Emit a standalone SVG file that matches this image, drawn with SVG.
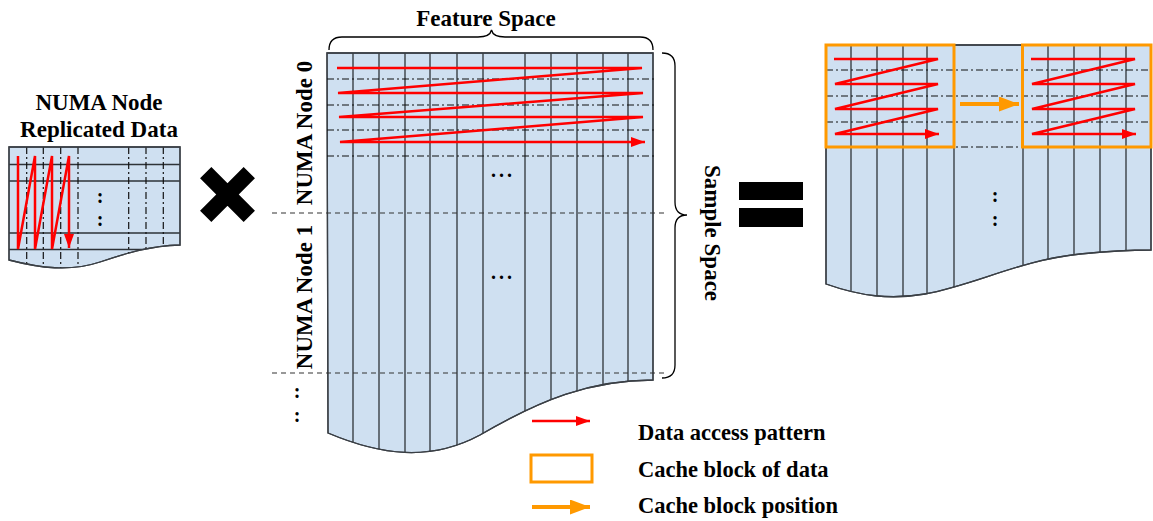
<svg xmlns="http://www.w3.org/2000/svg" width="1153" height="521" viewBox="0 0 1153 521">
  <style>
    .body { fill: #cfe0f1; stroke: #3a3f45; stroke-width: 1.3; }
    .col { stroke: #2e3338; stroke-width: 1.3; }
    .row { stroke: #2e3338; stroke-width: 1.3; }
    .dd { stroke: #111; stroke-width: 1.2; stroke-dasharray: 7 3 2 3; fill: none; }
    .dash { stroke: #333; stroke-width: 1.2; stroke-dasharray: 5 4; fill: none; }
    .red { stroke: #ff0000; stroke-width: 2.5; fill: none; stroke-linejoin: miter; }
    .orange { stroke: #ff9900; stroke-width: 4; fill: none; }
    .cache { stroke: #ff9900; stroke-width: 3; fill: none; }
    .brace { stroke: #000; stroke-width: 1.3; fill: none; }
    .lbl { font-family: "Liberation Serif", "Times New Roman", serif; font-weight: bold; font-size: 23px; fill: #000; }
    .leg { font-family: "Liberation Serif", "Times New Roman", serif; font-weight: bold; font-size: 22.5px; fill: #000; }
    .dots { font-family: "Liberation Serif", "Times New Roman", serif; font-weight: bold; font-size: 20px; fill: #000; text-anchor: middle; }
  </style>
  <defs>
    <marker id="redHead" markerUnits="userSpaceOnUse" viewBox="0 0 14 10" markerWidth="14" markerHeight="10" refX="14" refY="5" orient="auto">
      <path d="M0,0 L14,5 L0,10 z" fill="#ff0000"/>
    </marker>
    <marker id="orangeHead" markerUnits="userSpaceOnUse" viewBox="0 0 20 15" markerWidth="20" markerHeight="15" refX="20" refY="7.5" orient="auto">
      <path d="M0,0 L20,7.5 L0,15 z" fill="#ff9900"/>
    </marker>
    <clipPath id="clipLeft">
      <path d="M9,147 L180,147 L180,245 C150,246 130,252 100,262 C70,272 40,268 9,260 Z"/>
    </clipPath>
    <clipPath id="clipMid">
      <path d="M327,53 L653,53 L653,380 C590,380 540,400 480,435 C430,462 380,455 328,433 Z"/>
    </clipPath>
    <clipPath id="clipRight">
      <path d="M826,45 L1151,45 L1151,250 C1130,250 1110,251 1080,254 C1020,260 975,285 925,294 C890,300 860,296 826,284 Z"/>
    </clipPath>
  </defs>

  <!-- replicated data held by each NUMA node -->
  <g id="replicated-data">
    <text class="lbl" x="99" y="110" text-anchor="middle">NUMA Node</text>
    <text class="lbl" x="99" y="137" text-anchor="middle">Replicated Data</text>
    <path class="body" d="M9,147 L180,147 L180,245 C150,246 130,252 100,262 C70,272 40,268 9,260 Z"/>
    <g clip-path="url(#clipLeft)">
      <path class="row" d="M9,164.5 H180 M9,181 H180 M9,233 H180 M9,249.5 H180"/>
      <path class="dd" d="M26.7,147 V275 M43.3,147 V275 M60.7,147 V275 M78,147 V275 M128.7,147 V275 M146,147 V275 M163.3,147 V275"/>
    </g>
    <path class="body" style="fill:none" d="M9,147 L180,147 L180,245 C150,246 130,252 100,262 C70,272 40,268 9,260 Z"/>
    <text class="dots" x="100" y="203">:</text>
    <text class="dots" x="100" y="226">:</text>
    <path class="red" d="M18,156 L18,249 L35,156 L35,249 L52,156 L52,249 L69,156 L69,248" marker-end="url(#redHead)"/>
  </g>

  <!-- multiplication sign -->
  <g id="multiply-sign">
    <path d="M205.7,172.7 L249.3,216.3 M249.3,172.7 L205.7,216.3" stroke="#000" stroke-width="16" fill="none"/>
  </g>

  <!-- feature matrix split into NUMA node partitions -->
  <g id="feature-matrix">
    <text class="lbl" x="486" y="26" text-anchor="middle">Feature Space</text>
    <path class="brace" d="M329,50 Q329,37 342,37 L478,37 Q490,37 491.5,30 Q493,37 505,37 L640,37 Q653,37 653,50"/>
    <path class="brace" d="M662,53 Q675,53 675,66 L675,202 Q675,215 687,215 Q675,215 675,228 L675,365 Q675,378 662,378"/>
    <text class="lbl" transform="translate(705,233) rotate(90)" text-anchor="middle">Sample Space</text>
    <path class="body" d="M327,53 L653,53 L653,380 C590,380 540,400 480,435 C430,462 380,455 328,433 Z"/>
    <g clip-path="url(#clipMid)">
      <path class="col" d="M353,53 V470 M379,53 V470 M405,53 V470 M430,53 V470 M457,53 V470 M483,53 V470 M525,53 V470 M551,53 V470 M577,53 V470 M603,53 V470 M628,53 V470"/>
    </g>
    <path class="body" style="fill:none" d="M327,53 L653,53 L653,380 C590,380 540,400 480,435 C430,462 380,455 328,433 Z"/>
    <path class="dd" d="M327,79 H655 M327,105 H655 M327,130 H655 M327,156 H655"/>
    <path class="dash" d="M272,213 H668 M272,373 H668"/>
    <path class="red" d="M337,68 L642,68 L338,93 L643,93 L339,117 L643,117 L340,142 L645,142" marker-end="url(#redHead)"/>
    <text class="dots" x="503" y="177" letter-spacing="3">...</text>
    <text class="dots" x="503" y="279" letter-spacing="3">...</text>
    <text class="lbl" transform="translate(312,133) rotate(-90)" text-anchor="middle">NUMA Node 0</text>
    <text class="lbl" transform="translate(312,297) rotate(-90)" text-anchor="middle">NUMA Node 1</text>
    <text class="dots" x="297" y="398">:</text>
    <text class="dots" x="297" y="422">:</text>
  </g>

  <!-- equals sign -->
  <g id="equals-sign">
    <rect x="739" y="182" width="64" height="18" fill="#000"/>
    <rect x="739" y="208" width="64" height="19" fill="#000"/>
  </g>

  <!-- result matrix with cache blocks -->
  <g id="result-matrix">
    <path class="body" d="M826,45 L1151,45 L1151,250 C1130,250 1110,251 1080,254 C1020,260 975,285 925,294 C890,300 860,296 826,284 Z"/>
    <g clip-path="url(#clipRight)">
      <path class="col" d="M851,45 V310 M877,45 V310 M903,45 V310 M927,45 V310 M954,45 V310 M1023,45 V310 M1048,45 V310 M1074,45 V310 M1100,45 V310 M1126,45 V310"/>
    </g>
    <path class="body" style="fill:none" d="M826,45 L1151,45 L1151,250 C1130,250 1110,251 1080,254 C1020,260 975,285 925,294 C890,300 860,296 826,284 Z"/>
    <path class="dd" d="M826,70 H1151 M826,96 H1151 M826,122 H1151 M826,147 H1151"/>
    <text class="dots" x="995" y="202">:</text>
    <text class="dots" x="995" y="226">:</text>
  </g>

  <g id="cache-block-1">
    <rect class="cache" x="826" y="45" width="128" height="102"/>
    <path class="red" d="M834,59 L938,59 L835,84 L938,84 L835,109 L938,109 L835,134 L939,134" marker-end="url(#redHead)"/>
  </g>

  <g id="cache-block-2">
    <rect class="cache" x="1022.5" y="45" width="128.5" height="102"/>
    <path class="red" d="M1031,59 L1135,59 L1032,84 L1135,84 L1032,109 L1135,109 L1032,134 L1136,134" marker-end="url(#redHead)"/>
  </g>

  <g id="connectors">
    <path class="orange" d="M960,104 L1019,104" marker-end="url(#orangeHead)"/>
  </g>

  <!-- legend -->
  <g id="legend-access">
    <path class="red" d="M532,421 L590,421" marker-end="url(#redHead)"/>
    <text class="leg" x="638" y="440">Data access pattern</text>
  </g>
  <g id="legend-cache-block">
    <rect class="cache" x="531" y="455" width="61" height="27"/>
    <text class="leg" x="638" y="477">Cache block of data</text>
  </g>
  <g id="legend-cache-position">
    <path class="orange" d="M532,507 L590,507" marker-end="url(#orangeHead)"/>
    <text class="leg" x="638" y="513">Cache block position</text>
  </g>
</svg>
